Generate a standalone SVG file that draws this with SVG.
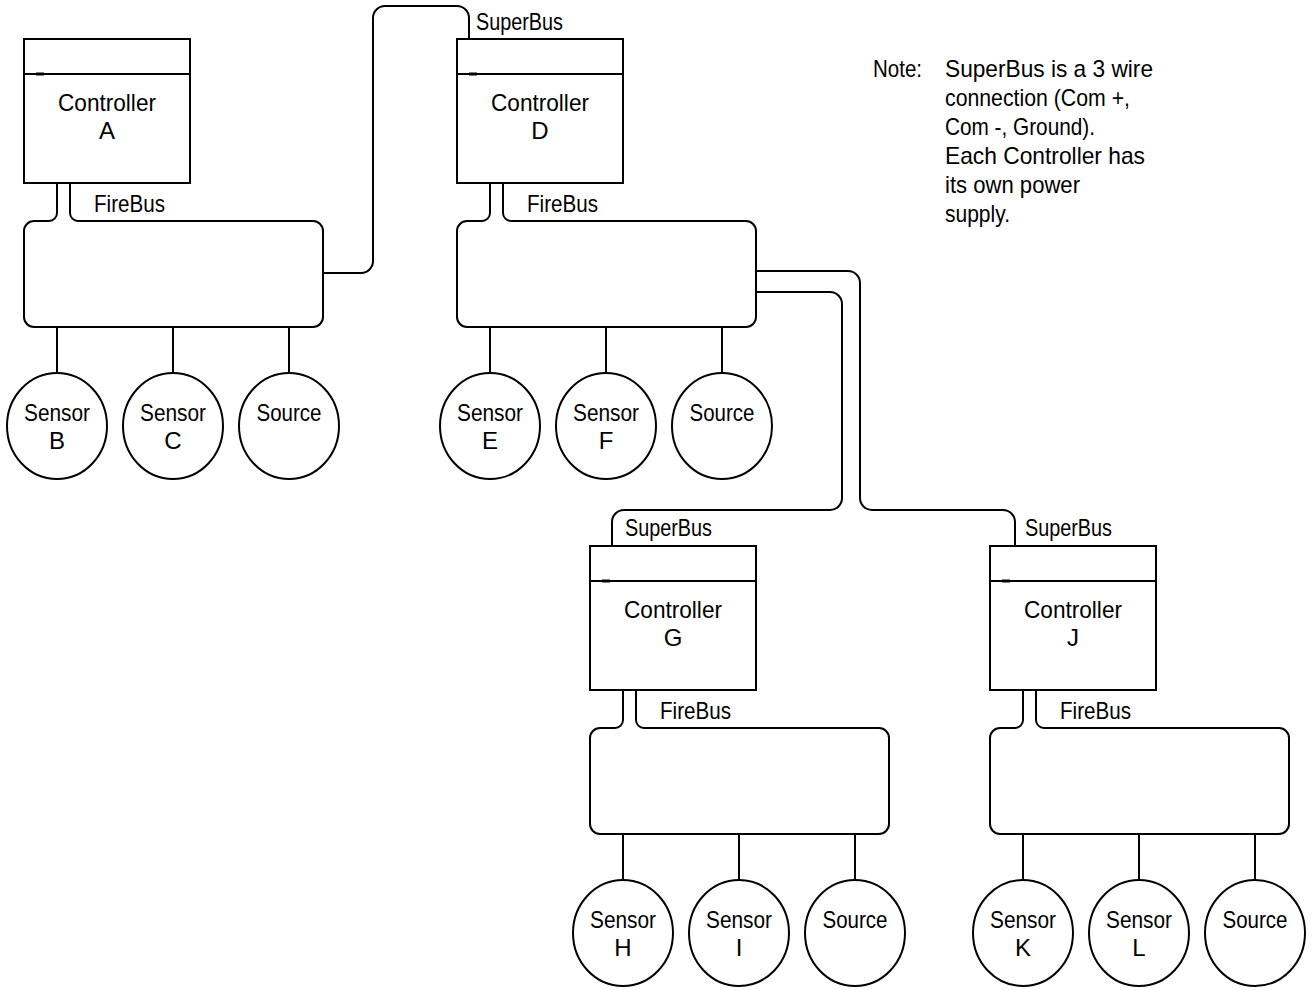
<svg xmlns="http://www.w3.org/2000/svg" width="1314" height="990" viewBox="0 0 1314 990">
<style>
.ln{fill:none;stroke:#000;stroke-width:2}
.tk{stroke:#000;stroke-width:3}
.t{font-family:"Liberation Sans",Arial,sans-serif;font-size:24px;fill:#000}
.c{text-anchor:middle}
</style>
<defs>
<g id="ctrl">
<rect class="ln" x="24" y="39" width="166" height="144"/>
<line class="ln" x1="24" y1="74" x2="190" y2="74"/>
<line class="tk" x1="36" y1="74" x2="44" y2="74"/>
</g>
<g id="bus">
<path class="ln" d="M57,183 V213 A8,8 0 0 1 49,221 H34 A10,10 0 0 0 24,231 V317 A10,10 0 0 0 34,327 H313 A10,10 0 0 0 323,317 V231 A10,10 0 0 0 313,221 H78 A8,8 0 0 1 70,213 V183"/>
<line class="ln" x1="57" y1="327" x2="57" y2="373"/>
<line class="ln" x1="173" y1="327" x2="173" y2="373"/>
<line class="ln" x1="289" y1="327" x2="289" y2="373"/>
</g>
<ellipse id="dev" class="ln" cx="0" cy="426" rx="50" ry="53"/>
</defs>

<g id="connectors">
<path class="ln" d="M323,273 H361 A12,12 0 0 0 373,261 V18 A12,12 0 0 1 385,6 H457 A12,12 0 0 1 469,18 V39"/>
<path class="ln" d="M756,271 H848 A12,12 0 0 1 860,283 V498 A12,12 0 0 0 872,510 H1003 A12,12 0 0 1 1015,522 V546"/>
<path class="ln" d="M756,292 H830 A12,12 0 0 1 842,304 V498 A12,12 0 0 1 830,510 H624 A12,12 0 0 0 612,522 V546"/>
<text class="t" x="476" y="30" textLength="87" lengthAdjust="spacingAndGlyphs">SuperBus</text>
<text class="t" x="625" y="536" textLength="87" lengthAdjust="spacingAndGlyphs">SuperBus</text>
<text class="t" x="1025" y="536" textLength="87" lengthAdjust="spacingAndGlyphs">SuperBus</text>
</g>

<g id="groupA">
<g id="controllerA"><use href="#ctrl"/><text class="t c" x="107" y="111" textLength="98" lengthAdjust="spacingAndGlyphs">Controller</text><text class="t c" x="107" y="139">A</text></g>
<g id="firebusA"><use href="#bus"/><text class="t" x="94" y="212" textLength="71" lengthAdjust="spacingAndGlyphs">FireBus</text></g>
<g id="sensorB"><use href="#dev" x="57"/><text class="t c" x="57" y="421" textLength="66" lengthAdjust="spacingAndGlyphs">Sensor</text><text class="t c" x="57" y="449">B</text></g>
<g id="sensorC"><use href="#dev" x="173"/><text class="t c" x="173" y="421" textLength="66" lengthAdjust="spacingAndGlyphs">Sensor</text><text class="t c" x="173" y="449">C</text></g>
<g id="sourceA"><use href="#dev" x="289"/><text class="t c" x="289" y="421" textLength="65" lengthAdjust="spacingAndGlyphs">Source</text></g>
</g>

<g id="groupD" transform="translate(433,0)">
<g id="controllerD"><use href="#ctrl"/><text class="t c" x="107" y="111" textLength="98" lengthAdjust="spacingAndGlyphs">Controller</text><text class="t c" x="107" y="139">D</text></g>
<g id="firebusD"><use href="#bus"/><text class="t" x="94" y="212" textLength="71" lengthAdjust="spacingAndGlyphs">FireBus</text></g>
<g id="sensorE"><use href="#dev" x="57"/><text class="t c" x="57" y="421" textLength="66" lengthAdjust="spacingAndGlyphs">Sensor</text><text class="t c" x="57" y="449">E</text></g>
<g id="sensorF"><use href="#dev" x="173"/><text class="t c" x="173" y="421" textLength="66" lengthAdjust="spacingAndGlyphs">Sensor</text><text class="t c" x="173" y="449">F</text></g>
<g id="sourceD"><use href="#dev" x="289"/><text class="t c" x="289" y="421" textLength="65" lengthAdjust="spacingAndGlyphs">Source</text></g>
</g>

<g id="groupG" transform="translate(566,507)">
<g id="controllerG"><use href="#ctrl"/><text class="t c" x="107" y="111" textLength="98" lengthAdjust="spacingAndGlyphs">Controller</text><text class="t c" x="107" y="139">G</text></g>
<g id="firebusG"><use href="#bus"/><text class="t" x="94" y="212" textLength="71" lengthAdjust="spacingAndGlyphs">FireBus</text></g>
<g id="sensorH"><use href="#dev" x="57"/><text class="t c" x="57" y="421" textLength="66" lengthAdjust="spacingAndGlyphs">Sensor</text><text class="t c" x="57" y="449">H</text></g>
<g id="sensorI"><use href="#dev" x="173"/><text class="t c" x="173" y="421" textLength="66" lengthAdjust="spacingAndGlyphs">Sensor</text><text class="t c" x="173" y="449">I</text></g>
<g id="sourceG"><use href="#dev" x="289"/><text class="t c" x="289" y="421" textLength="65" lengthAdjust="spacingAndGlyphs">Source</text></g>
</g>

<g id="groupJ" transform="translate(966,507)">
<g id="controllerJ"><use href="#ctrl"/><text class="t c" x="107" y="111" textLength="98" lengthAdjust="spacingAndGlyphs">Controller</text><text class="t c" x="107" y="139">J</text></g>
<g id="firebusJ"><use href="#bus"/><text class="t" x="94" y="212" textLength="71" lengthAdjust="spacingAndGlyphs">FireBus</text></g>
<g id="sensorK"><use href="#dev" x="57"/><text class="t c" x="57" y="421" textLength="66" lengthAdjust="spacingAndGlyphs">Sensor</text><text class="t c" x="57" y="449">K</text></g>
<g id="sensorL"><use href="#dev" x="173"/><text class="t c" x="173" y="421" textLength="66" lengthAdjust="spacingAndGlyphs">Sensor</text><text class="t c" x="173" y="449">L</text></g>
<g id="sourceJ"><use href="#dev" x="289"/><text class="t c" x="289" y="421" textLength="65" lengthAdjust="spacingAndGlyphs">Source</text></g>
</g>

<g id="note">
<text class="t" x="873" y="77" textLength="49" lengthAdjust="spacingAndGlyphs">Note:</text>
<text class="t" x="945" y="77" textLength="208" lengthAdjust="spacingAndGlyphs">SuperBus is a 3 wire</text>
<text class="t" x="945" y="106" textLength="185" lengthAdjust="spacingAndGlyphs">connection (Com +,</text>
<text class="t" x="945" y="135" textLength="150" lengthAdjust="spacingAndGlyphs">Com -, Ground).</text>
<text class="t" x="945" y="164" textLength="200" lengthAdjust="spacingAndGlyphs">Each Controller has</text>
<text class="t" x="945" y="193" textLength="135" lengthAdjust="spacingAndGlyphs">its own power</text>
<text class="t" x="945" y="222" textLength="65" lengthAdjust="spacingAndGlyphs">supply.</text>
</g>
</svg>
